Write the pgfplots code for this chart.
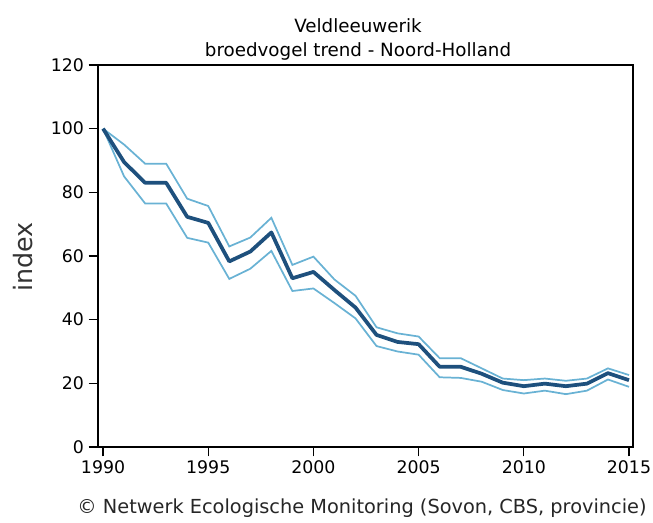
\documentclass[border=0pt]{standalone}
\usepackage{pgfplots}
\pgfplotsset{compat=1.18}
\usepackage{pgfplotstable}
\usepackage{fontspec}
\setmainfont{DejaVu Sans}
\definecolor{mainblue}{RGB}{30,80,125}
\definecolor{bandblue}{RGB}{105,178,212}
\pgfplotstableread{
year main upper lower
1990 100 100 100
1991 89.5 95 85
1992 83 89 76.5
1993 83 89 76.5
1994 72.3 78 65.7
1995 70.4 75.7 64.2
1996 58.3 63 52.8
1997 61.4 65.8 56
1998 67.4 72 61.6
1999 53 57.2 49
2000 55 59.8 49.8
2001 49.3 52.6 45.2
2002 43.8 47.5 40.4
2003 35.2 37.6 31.7
2004 33 35.7 30
2005 32.3 34.7 29
2006 25.2 27.9 21.9
2007 25.2 27.9 21.7
2008 23 24.7 20.5
2009 20.2 21.5 17.9
2010 19.1 21 16.8
2011 19.9 21.5 17.7
2012 19.1 20.8 16.6
2013 19.9 21.5 17.7
2014 23.2 24.7 21.2
2015 21 22.6 18.9
}\trend
\begin{document}
\begin{tikzpicture}
\useasboundingbox (0,0) rectangle (489.75pt,392.25pt);
\begin{axis}[
  at={(73.5pt,57pt)}, anchor=south west,
  scale only axis, width=401.25pt, height=286.5pt,
  xmin=1989.76, xmax=2015.19, ymin=0, ymax=120,
  xtick={1990,1995,...,2015}, ytick={0,20,...,120},
  minor tick num=0,
  tick pos=left, tick align=outside, major tick length=7pt,
  /pgf/number format/assume math mode=true,
  xticklabel style={/pgf/number format/1000 sep={}, font=\fontsize{13}{15}\selectfont},
  yticklabel style={font=\fontsize{13}{15}\selectfont},
  axis line style={black, line width=0.9pt},
  tick style={black, line width=0.9pt},
  clip=false,
]
\addplot[bandblue, line width=1.3pt] table[x=year, y=upper] {\trend};
\addplot[bandblue, line width=1.3pt] table[x=year, y=lower] {\trend};
\addplot[mainblue, line width=2.8pt, line join=round] table[x=year, y=main] {\trend};
\end{axis}
\node[anchor=base, font=\fontsize{13.7}{16}\selectfont] at (268.5pt,367.5pt) {Veldleeuwerik};
\node[anchor=base, font=\fontsize{13.7}{16}\selectfont] at (268.5pt,349.5pt) {broedvogel trend - Noord-Holland};
\node[rotate=90, anchor=center, text=black!80, font=\fontsize{19}{22}\selectfont] at (17.25pt,199.5pt) {index};
\node[anchor=base, text=black!85, font=\fontsize{14.5}{17}\selectfont] at (271.5pt,6.75pt) {© Netwerk Ecologische Monitoring (Sovon, CBS, provincie)};
\end{tikzpicture}
\end{document}
